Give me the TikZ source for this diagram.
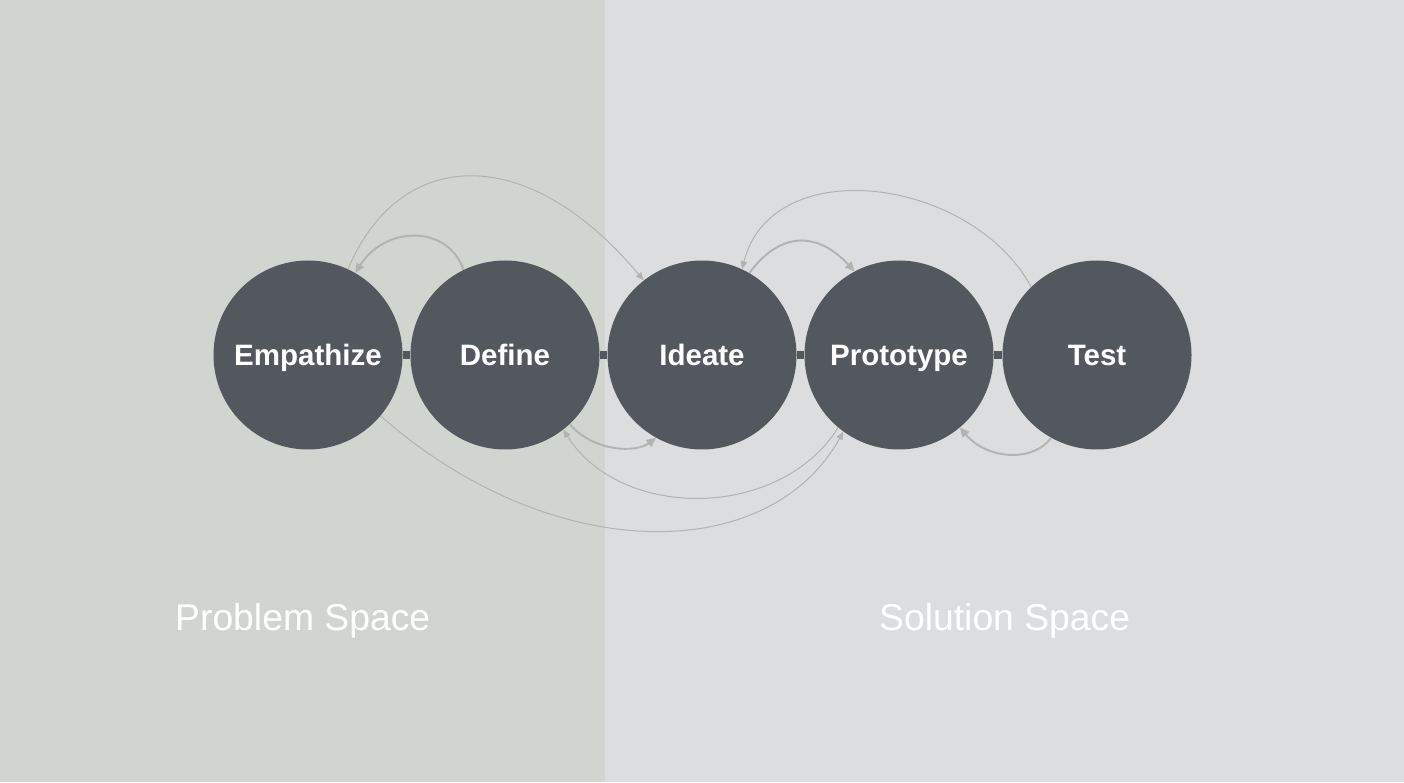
\documentclass[tikz,border=0pt]{standalone}
\usepackage{fontspec}
\setmainfont{Liberation Sans}
\usetikzlibrary{arrows.meta}
\definecolor{leftbg}{HTML}{D0D5D0}
\definecolor{rightbg}{HTML}{DCDDDF}
\definecolor{stage}{HTML}{53575E}
\definecolor{arr}{HTML}{B2B2B2}
\tikzset{
  stagenode/.style={circle, fill=stage, minimum size=189pt, inner sep=0pt, text=white, text height=20.5pt, text depth=0pt, font=\bfseries\fontsize{29.5}{31}\selectfont},
  linkbar/.style={draw=stage, line width=7.5pt},
  thickarrow/.style={draw=arr, line width=1.9pt, -{Triangle[length=9.5pt,width=8.5pt]}},
  thinarrow/.style={draw=arr, line width=1pt, -{Triangle[length=8pt,width=6.5pt]}},
  spacelabel/.style={text=white, font=\fontsize{37.3}{42}\selectfont, anchor=base west, inner sep=0pt}
}
\begin{document}
\begin{tikzpicture}[x=1pt,y=1pt]
\useasboundingbox (0,0) rectangle (1404,782);
\fill[leftbg] (0,0) rectangle (605,782);
\fill[rightbg] (605,0) rectangle (1404,782);
\node[stagenode] (emp) at (308,427) {Empathize};
\node[stagenode] (def) at (505,427) {Define};
\node[stagenode] (ide) at (702,427) {Ideate};
\node[stagenode] (pro) at (899,427) {Prototype};
\node[stagenode] (tes) at (1097,427) {Test};
\draw[linkbar] (emp) -- (def);
\draw[linkbar] (def) -- (ide);
\draw[linkbar] (ide) -- (pro);
\draw[linkbar] (pro) -- (tes);
% top arrows
\draw[thickarrow] (def.116) .. controls +(-15,45) and +(30,48) .. (emp.60);
\draw[thinarrow] (emp.65) .. controls +(50,120) and +(-119,142) .. (ide.128);
\draw[thickarrow] (ide.60) .. controls +(31,42) and +(-37,40) .. (pro.118);
\draw[thinarrow] (tes.134) .. controls +(-60,110) and +(30,118) .. (ide.65);
% bottom arrows
\draw[thickarrow] (def.-47) .. controls +(25,-28) and +(-20,-15) .. (ide.241);
\draw[thinarrow] (pro.230) .. controls +(-58,-93) and +(57,-91) .. (def.-52);
\draw[thinarrow] (emp.-40) .. controls +(170,-150) and +(-75,-135) .. (pro.234.6);
\draw[thickarrow] (tes.241.5) .. controls +(-17,-24) and +(28,-33) .. (pro.-50);
\node[spacelabel] (prob) at (175,152) {Problem Space};
\node[spacelabel] (sol) at (879,152) {Solution Space};
\end{tikzpicture}
\end{document}
